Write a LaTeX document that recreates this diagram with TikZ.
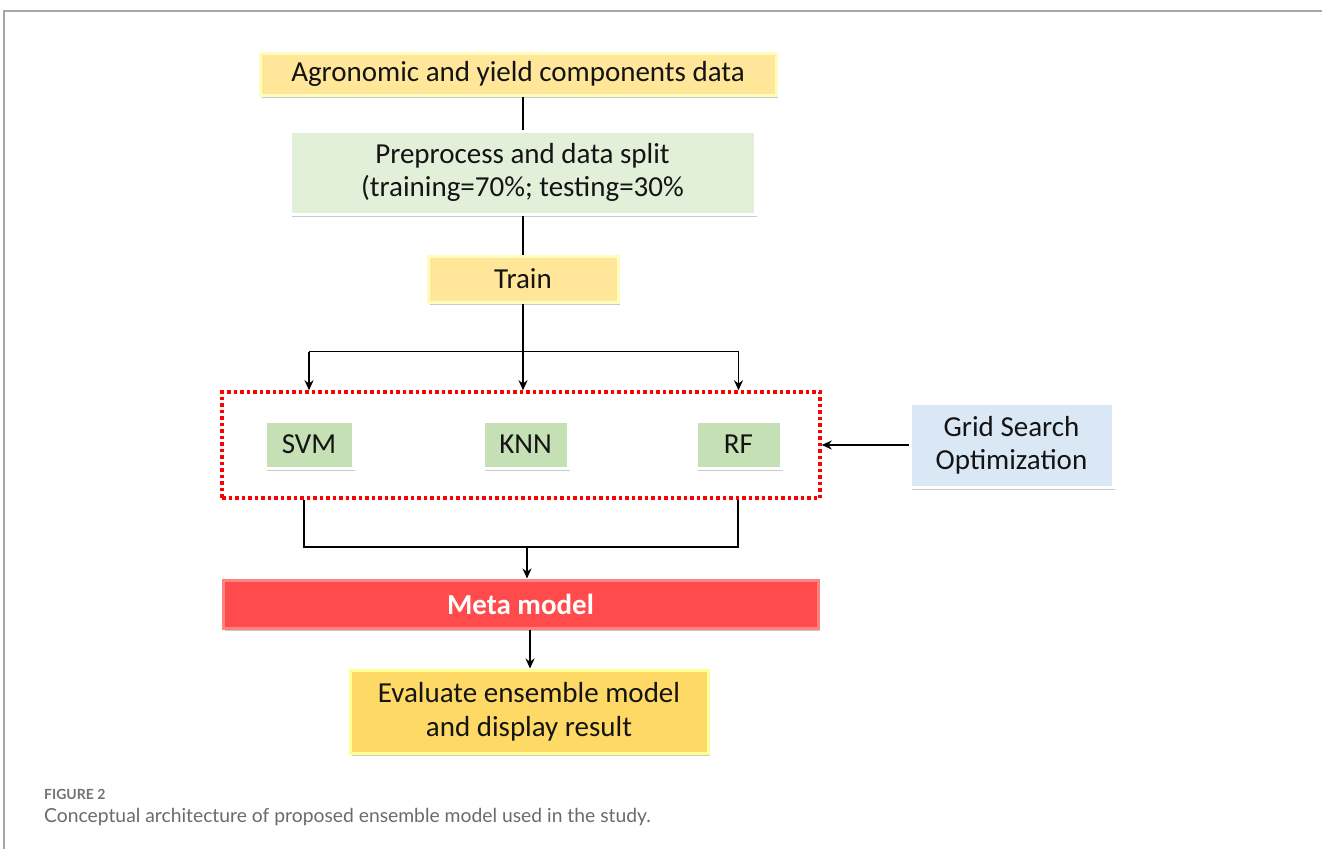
\documentclass[tikz,border=0pt]{standalone}
\usepackage{fontspec}
\setmainfont{Carlito}
\newfontfamily\capfont{Lato}
\usetikzlibrary{arrows.meta,shadows}
\begin{document}
\begin{tikzpicture}[x=1pt,y=-1pt,
  box/.style={draw=white,line width=3pt,align=center,inner sep=0pt,
     font=\fontsize{29}{33}\selectfont,text=black!92,
     drop shadow={shadow xshift=2pt,shadow yshift=-3pt,opacity=0.35,fill=black!60}},
  conn/.style={line width=1.9pt,black},
  arr/.style={conn,-{Stealth[length=10pt,width=9pt]}}]
\useasboundingbox (0,0) rectangle (1322,849);
\fill[white] (0,0) rectangle (1322,849);
\draw[black!35,line width=1.2pt] (4,849) -- (4,11) -- (1322,11);
\node[box,draw=yellow!25!white,fill={rgb,255:red,255;green,230;blue,153},minimum width=516,minimum height=42] (b1) at (518,74) {Agronomic and yield components data};
\node[box,fill={rgb,255:red,226;green,240;blue,217},minimum width=465,minimum height=83] (b2) at (522.5,172.5) {Preprocess and data split\\(training=70\%; testing=30\%};
\node[box,draw=yellow!25!white,fill={rgb,255:red,255;green,230;blue,153},minimum width=190,minimum height=46] (train) at (523,279) {Train};
\node[draw=red,line width=3.5pt,dash pattern=on 3.5pt off 3pt,minimum width=598,minimum height=106] (ens) at (521,445) {};
\node[box,fill={rgb,255:red,197;green,224;blue,180},minimum width=88,minimum height=47] (svm) at (309,444.5) {SVM};
\node[box,fill={rgb,255:red,197;green,224;blue,180},minimum width=85,minimum height=47] (knn) at (525.5,444.5) {KNN};
\node[box,fill={rgb,255:red,197;green,224;blue,180},minimum width=85,minimum height=47] (rf) at (738.5,444.5) {RF};
\node[box,fill={rgb,255:red,218;green,232;blue,245},minimum width=203,minimum height=84] (grid) at (1011.5,445) {Grid Search\\Optimization};
\node[box,draw={rgb,255:red,255;green,130;blue,130},fill={rgb,255:red,255;green,75;blue,75},text=white,font=\fontsize{29}{33}\selectfont\bfseries,minimum width=595,minimum height=48] (meta) at (520.5,604) {Meta model};
\node[box,draw={rgb,255:red,255;green,255;blue,150},fill={rgb,255:red,255;green,217;blue,102},minimum width=358,minimum height=83,font=\fontsize{29}{34}\selectfont] (eval) at (529,711.5) {Evaluate ensemble model\\and display result};
% connectors
\draw[conn] (train.north |- b1.south) -- (train.north |- b2.north);
\draw[conn] (train.north |- b2.south) -- (train.north);
\draw[conn] (train.south) -- ++(0,48) coordinate (br);
\draw[conn] (br -| svm) -- (br -| rf);
\draw[arr] (br -| svm) -- (svm |- ens.north);
\draw[arr] (br) -- (br |- ens.north);
\draw[arr] (br -| rf) -- (rf |- ens.north);
\draw[arr] (grid.west) -- (ens.east |- grid.west);
\coordinate (jn) at (527,547);
\draw[conn] (304,498) coordinate (sl) (ens.south -| sl) -- (jn -| sl) -- (jn -| 738,0) -- (ens.south -| 738,0);
\draw[arr] (jn) -- (jn |- meta.north);
\draw[arr] (meta.south -| 530,0) -- (eval.north -| 530,0);
% caption
\node[anchor=base west,font=\capfont\bfseries\fontsize{14}{17}\selectfont,text=black!55,inner sep=0pt] (fig) at (44,799) {FIGURE 2};
\node[anchor=base west,font=\capfont\fontsize{19.3}{22}\selectfont,text=black!58,inner sep=0pt] (cap) at (44,822) {Conceptual architecture of proposed ensemble model used in the study.};
\end{tikzpicture}
\end{document}
